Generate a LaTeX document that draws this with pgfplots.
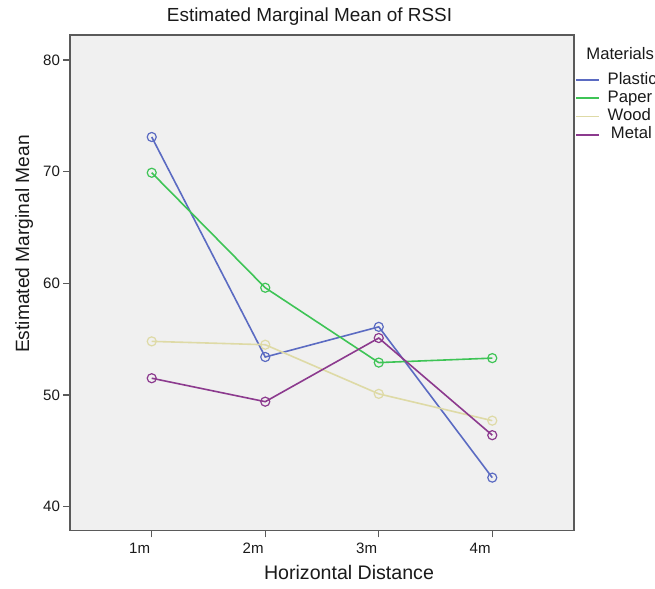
\documentclass[border=0pt]{standalone}
\usepackage{fontspec}
\setmainfont{Liberation Sans}
\usepackage{pgfplots}
\pgfplotsset{compat=1.18}
\definecolor{cplastic}{HTML}{5B6BC2}
\definecolor{cpaper}{HTML}{3EC456}
\definecolor{cwood}{HTML}{DEDAA6}
\definecolor{cmetal}{HTML}{8C3A8E}
\definecolor{bgc}{HTML}{F0F0F0}
\definecolor{framec}{HTML}{5A5A5A}
\definecolor{txt}{HTML}{1A1A1A}

\begin{document}
\begin{tikzpicture}[x=0.75pt,y=0.75pt]
\clip (0,0) rectangle (655,588);
\begin{axis}[
  at={(52.5pt,43pt)}, anchor=south west,
  scale only axis, width=378pt, height=371.8pt,
  xmin=0.28, xmax=4.72, ymin=37.85, ymax=82.24,
  xtick={1,2,3,4}, xticklabels={1m,2m,3m,4m},
  ytick={40,50,60,70,80},
  axis background/.style={fill=bgc},
  axis line style={framec,line width=1.1pt},
  tick align=outside, tick pos=left,
  major tick length=5pt,
  every tick/.style={framec,line width=1.1pt},
  /pgf/number format/assume math mode=true,
  tick label style={font=\fontsize{11.3}{13}\selectfont,text=txt},
  xticklabel style={anchor=north east,xshift=2.3pt,yshift=-1pt},
  yticklabel style={xshift=1pt},
  clip=false,
  every axis plot/.append style={line width=1.2pt,mark=o,mark size=3.4pt,
     mark options={solid,line width=0.9pt}},
  legend cell align=left,
  legend style={at={(0.994,0.931)},anchor=north west,draw=none,fill=none,
     font=\fontsize{12.5}{14}\selectfont,text=txt,
     nodes={inner sep=0pt,text height=9pt,text depth=3pt},
     row sep=1.7pt},
  legend image code/.code={\draw[#1,line width=1.3pt,mark=none] (0pt,0pt) -- (17.5pt,0pt);},
]
\addplot[cplastic] coordinates {(1,73.1) (2,53.4) (3,56.1) (4,42.6)};
\addlegendentry{\hspace{5.5pt}Plastic}
\addplot[cpaper] coordinates {(1,69.9) (2,59.6) (3,52.9) (4,53.3)};
\addlegendentry{\hspace{5.5pt}Paper}
\addplot[cwood] coordinates {(1,54.8) (2,54.5) (3,50.1) (4,47.7)};
\addlegendentry{\hspace{5.5pt}Wood}
\addplot[cmetal] coordinates {(1,51.5) (2,49.4) (3,55.1) (4,46.4)};
\addlegendentry{\hspace{8pt}Metal}
\end{axis}
\node[anchor=base,font=\fontsize{14.2}{17}\selectfont,text=txt] at (309.5,566.3) {Estimated Marginal Mean of RSSI};
\node[anchor=base,font=\fontsize{14.7}{17}\selectfont,text=txt] at (349,8.7) {Horizontal Distance};
\node[anchor=base,rotate=90,font=\fontsize{14.4}{17}\selectfont,text=txt] at (29,344) {Estimated Marginal Mean};
\node[anchor=base west,font=\fontsize{12.5}{14}\selectfont,text=txt] at (581.7,528) {Materials};
\end{tikzpicture}
\end{document}
